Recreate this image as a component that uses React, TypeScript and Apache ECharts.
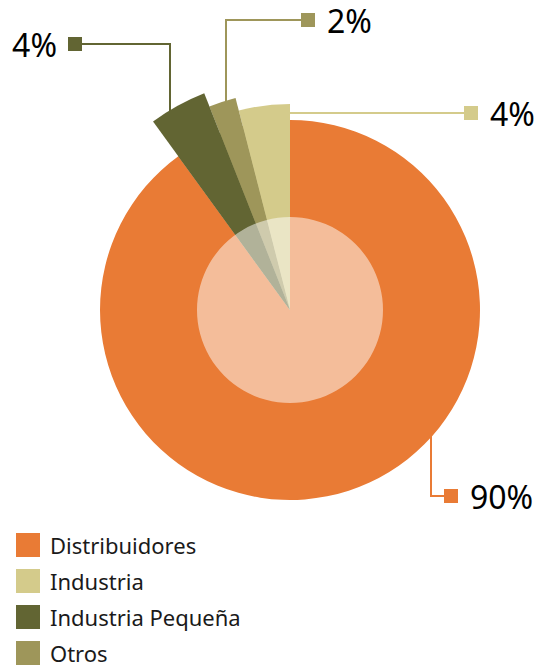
import React, { useEffect, useRef } from 'react';
import * as echarts from 'echarts';

// Slices in clockwise order from 12 o'clock
const categories = ['Distribuidores', 'Industria Pequeña', 'Otros', 'Industria'];
const values = [90, 4, 2, 4];
const legendOrder = ['Distribuidores', 'Industria', 'Industria Pequeña', 'Otros'];

const colors: Record<string, string> = {
  Distribuidores: '#E97B35',
  Industria: '#D4CB8B',
  'Industria Pequeña': '#626533',
  Otros: '#9E965A',
};

// presentation config (outer radius per slice, label anchor spots)
const radii: Record<string, number> = {
  Distribuidores: 190,
  Industria: 206,
  Otros: 219,
  'Industria Pequeña': 233,
};

const labelSpots: Record<string, any> = {
  Distribuidores: { x: 444, y: 496, side: 'right', pts: [[431, 435], [431, 496], [444, 496]] },
  Industria: { x: 464, y: 113, side: 'right', pts: [[288, 113], [376, 113], [464, 113]] },
  Otros: { x: 301, y: 20, side: 'right', pts: [[226, 101], [226, 20], [301, 20]] },
  'Industria Pequeña': { x: 82, y: 44, side: 'left', pts: [[170, 111], [170, 44], [82, 44]] },
};

const CENTER = [290, 310];
const FONT = '"Noto Sans", "Open Sans", sans-serif';

export default function App() {
  const ref = useRef<HTMLDivElement>(null);
  useEffect(() => {
    document.body.style.margin = '0';
    if (!ref.current) return;
    const chart = echarts.init(ref.current, undefined, { renderer: 'svg' });

    const makeSeries = (owner: string | null, radius: number) => {
      const spot = owner ? labelSpots[owner] : null;
      return {
        type: 'pie',
        center: CENTER,
        radius: [0, radius],
        startAngle: 90,
        clockwise: true,
        silent: true,
        avoidLabelOverlap: false,
        data: categories.map((name, i) => {
          const visible = owner === null || owner === name;
          const labelled = owner === null ? name === 'Distribuidores' : owner === name;
          return {
            name,
            value: values[i],
            itemStyle: { color: visible ? colors[name] : 'rgba(0,0,0,0)' },
            label: { show: labelled },
            labelLine: { show: labelled, lineStyle: { color: colors[name], width: 2 } },
          };
        }),
        label: {
          position: 'outside',
          fontFamily: FONT,
          formatter: (p: any) =>
            labelSpots[p.name].side === 'left'
              ? `{v|${p.value}%}{sq${p.dataIndex}|}`
              : `{sq${p.dataIndex}|}{v|${p.value}%}`,
          rich: {
            v: {
              fontSize: 32,
              lineHeight: 28,
              fontFamily: FONT,
              color: '#000',
              verticalAlign: 'middle',
              padding: spot && spot.side === 'left' ? [0, 11, 0, 0] : [0, 0, 0, 12],
            },
            ...Object.fromEntries(
              categories.map((n, i) => [
                'sq' + i,
                { width: 14, height: 14, backgroundColor: colors[n], verticalAlign: 'middle' },
              ])
            ),
          },
        },
        labelLine: { show: true, length: 10, length2: 10 },
        labelLayout: (params: any) => {
          const name = categories[params.dataIndex];
          const s = labelSpots[name];
          return {
            x: s.x,
            y: s.y,
            align: s.side === 'left' ? 'right' : 'left',
            verticalAlign: 'middle',
            labelLinePoints: s.pts,
          };
        },
      };
    };

    chart.setOption({
      animation: false,
      legend: {
        data: legendOrder.map((n) => ({ name: n, itemStyle: { color: colors[n] } })),
        orient: 'vertical',
        left: 16,
        top: 533,
        height: 139,
        padding: 0,
        icon: 'rect',
        itemWidth: 24,
        itemHeight: 24,
        itemGap: 12,
        textStyle: {
          fontSize: 22,
          lineHeight: 24,
          fontFamily: FONT,
          color: '#1a1a1a',
          padding: [0, 0, 0, 5],
        },
      },
      series: [
        makeSeries(null, radii.Distribuidores),
        makeSeries('Industria', radii.Industria),
        makeSeries('Otros', radii.Otros),
        makeSeries('Industria Pequeña', radii['Industria Pequeña']),
        {
          type: 'pie',
          name: 'overlay',
          center: CENTER,
          radius: [0, 93],
          silent: true,
          label: { show: false },
          labelLine: { show: false },
          data: [{ name: '__overlay', value: 1, itemStyle: { color: 'rgba(255,255,255,0.5)' } }],
        },
      ],
    });
    return () => chart.dispose();
  }, []);
  return <div ref={ref} style={{ width: 539, height: 672 }} />;
}
